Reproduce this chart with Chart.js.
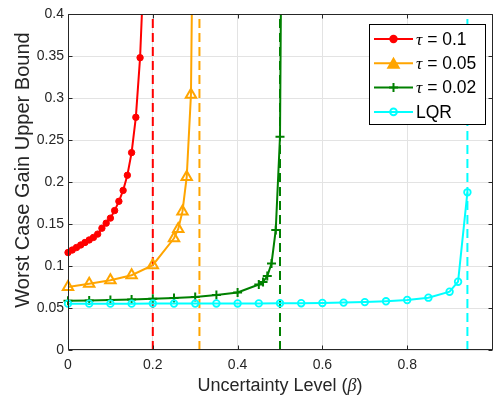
<!DOCTYPE html>
<html>
<head>
<meta charset="utf-8">
<script src="https://cdn.jsdelivr.net/npm/chart.js@4.4.1/dist/chart.umd.min.js"></script>
<style>
  html, body { margin: 0; padding: 0; background: #fff; overflow: hidden; }
  #wrap { width: 500px; height: 403px; }
</style>
</head>
<body>
<div id="wrap"><canvas id="chart" width="500" height="403"></canvas></div>
<script>
// series
const tau01X = [0, 0.01, 0.02, 0.03, 0.04, 0.05, 0.06, 0.07, 0.08, 0.09, 0.1, 0.11, 0.12, 0.13, 0.14, 0.15, 0.16, 0.17, 0.18];
const tau01Y = [0.116, 0.119, 0.122, 0.125, 0.128, 0.131, 0.134, 0.138, 0.145, 0.151, 0.157, 0.166, 0.177, 0.19, 0.208, 0.235, 0.277, 0.348, 0.47];

const tau005X = [0, 0.05, 0.1, 0.15, 0.2, 0.25, 0.26, 0.27, 0.28, 0.29, 0.3];
const tau005Y = [0.075, 0.079, 0.083, 0.089, 0.101, 0.133, 0.144, 0.165, 0.206, 0.304, 0.78];

const tau002X = [0, 0.05, 0.1, 0.15, 0.2, 0.25, 0.3, 0.35, 0.4, 0.45, 0.46, 0.47, 0.48, 0.49, 0.5, 0.51];
const tau002Y = [0.0587, 0.059, 0.0595, 0.06, 0.061, 0.062, 0.063, 0.0655, 0.0685, 0.078, 0.081, 0.088, 0.103, 0.143, 0.254, 0.98];

const lqrX = [0, 0.05, 0.1, 0.15, 0.2, 0.25, 0.3, 0.35, 0.4, 0.45, 0.5, 0.55, 0.6, 0.65, 0.7, 0.75, 0.8, 0.85, 0.9, 0.92, 0.942];
const lqrY = [0.0552, 0.0552, 0.0552, 0.0552, 0.0553, 0.0553, 0.0553, 0.0554, 0.0554, 0.0555, 0.0556, 0.0557, 0.056, 0.0564, 0.057, 0.058, 0.0595, 0.0623, 0.0694, 0.0813, 0.1877];

// dashed limits (one per series)
const limitX = [0.2, 0.31, 0.5, 0.942];

const legendLabels = ["τ = 0.1", "τ = 0.05", "τ = 0.02", "LQR"];
const xTicks = [0, 0.2, 0.4, 0.6, 0.8, 1];
const xTickLabels = ["0", "0.2", "0.4", "0.6", "0.8", ""];
const yTicks = [0, 0.05, 0.1, 0.15, 0.2, 0.25, 0.3, 0.35, 0.4];
const yTickLabels = ["0", "0.05", "0.1", "0.15", "0.2", "0.25", "0.3", "0.35", "0.4"];
const xTitle = ["Uncertainty Level (", "β", ")"];
const yTitle = "Worst Case Gain Upper Bound";

const colors = ["#ff0000", "#ffa500", "#008000", "#00ffff"];
const axisColor = "#262626";
const sans = "'Liberation Sans', Arial, sans-serif";
const serif = "'Liberation Serif', 'Times New Roman', serif";

const toPoints = (xs, ys) => xs.map((x, i) => ({ x, y: ys[i] }));

const marks = [
  { pointStyle: "circle", pointRadius: 3.2, pointBorderWidth: 1, fill: true },
  { pointStyle: "triangle", pointRadius: 6, pointBorderWidth: 2, fill: false },
  { pointStyle: "cross", pointRadius: 4.5, pointBorderWidth: 2, fill: false },
  { pointStyle: "circle", pointRadius: 3.3, pointBorderWidth: 1.8, fill: false },
];

const seriesX = [tau01X, tau005X, tau002X, lqrX];
const seriesY = [tau01Y, tau005Y, tau002Y, lqrY];

const curveSets = seriesX.map((xs, i) => ({
  data: toPoints(xs, seriesY[i]),
  borderColor: colors[i],
  borderWidth: 2,
  pointStyle: marks[i].pointStyle,
  pointRadius: marks[i].pointRadius,
  pointBorderWidth: marks[i].pointBorderWidth,
  pointBorderColor: colors[i],
  pointBackgroundColor: marks[i].fill ? colors[i] : "rgba(0,0,0,0)",
  tension: 0,
  order: 4 - i,
  clip: { left: 10, right: 10, top: 0, bottom: 10 },
}));

const limitSets = limitX.map((x, i) => ({
  data: [{ x, y: 0 }, { x, y: 0.4 }],
  borderColor: colors[i],
  borderWidth: 2,
  borderDash: [9, 5],
  pointRadius: 0,
  order: 10,
  clip: 0,
}));

// box, inward ticks, axis titles and legend
const frame = {
  id: "frame",
  afterDraw(chart) {
    const { ctx, chartArea: a, scales } = chart;
    const L = Math.round(a.left) + 0.5, R = Math.round(a.right) + 0.5;
    const T = Math.round(a.top) + 0.5, B = Math.round(a.bottom) - 0.5;
    ctx.save();
    ctx.strokeStyle = axisColor;
    ctx.lineWidth = 1;
    ctx.beginPath();
    ctx.rect(L, T, R - L, B - T);
    xTicks.forEach((v) => {
      const p = Math.round(scales.x.getPixelForValue(v)) + 0.5;
      ctx.moveTo(p, B); ctx.lineTo(p, B - 4);
      ctx.moveTo(p, T); ctx.lineTo(p, T + 4);
    });
    yTicks.forEach((v) => {
      const p = Math.round(scales.y.getPixelForValue(v)) + 0.5;
      ctx.moveTo(L, p); ctx.lineTo(L + 4, p);
      ctx.moveTo(R, p); ctx.lineTo(R - 4, p);
    });
    ctx.stroke();

    // x title, beta in italic
    ctx.fillStyle = axisColor;
    ctx.textBaseline = "middle";
    const fonts = ["18px " + sans, "italic 18px " + serif, "18px " + sans];
    const widths = xTitle.map((s, i) => { ctx.font = fonts[i]; return ctx.measureText(s).width; });
    let tx = (a.left + a.right) / 2 - widths.reduce((s, w) => s + w, 0) / 2;
    xTitle.forEach((s, i) => {
      ctx.font = fonts[i];
      ctx.textAlign = "left";
      ctx.fillText(s, tx, 386);
      tx += widths[i];
    });

    // y title
    ctx.save();
    ctx.translate(23, 170);
    ctx.rotate(-Math.PI / 2);
    ctx.font = "20px " + sans;
    ctx.textAlign = "center";
    ctx.fillText(yTitle, 0, 0);
    ctx.restore();

    // legend
    const lx = 369.5, ly = 24.5, lw = 116, lh = 100;
    ctx.fillStyle = "#fff";
    ctx.fillRect(lx, ly, lw, lh);
    ctx.strokeStyle = "#000";
    ctx.lineWidth = 1;
    ctx.strokeRect(lx, ly, lw, lh);
    legendLabels.forEach((label, i) => {
      const y = 39 + i * 24.3;
      ctx.strokeStyle = colors[i];
      ctx.lineWidth = 2;
      ctx.setLineDash([]);
      ctx.beginPath();
      ctx.moveTo(374, y); ctx.lineTo(413, y);
      ctx.stroke();
      ctx.fillStyle = i < 2 ? colors[i] : "rgba(0,0,0,0)";
      Chart.helpers.drawPoint(ctx, {
        pointStyle: marks[i].pointStyle,
        radius: marks[i].pointRadius,
        borderWidth: marks[i].pointBorderWidth,
        rotation: 0,
      }, 393.5, i === 1 ? y + 1.5 : y);
      ctx.fillStyle = "#000";
      ctx.textAlign = "left";
      ctx.textBaseline = "middle";
      let x = 416;
      if (label.startsWith("τ")) {
        ctx.font = "italic 17.5px " + serif;
        ctx.fillText("τ", x, y + 1);
        x += ctx.measureText("τ").width;
        label = label.slice(1);
      }
      ctx.font = "17.5px " + sans;
      ctx.fillText(label, x, y + 1);
    });
    ctx.restore();
  },
};

new Chart(document.getElementById("chart"), {
  type: "line",
  data: { datasets: [...curveSets, ...limitSets] },
  options: {
    responsive: false,
    animation: false,
    events: [],
    layout: { padding: { top: 14, right: 4.5, left: 0, bottom: 0 } },
    plugins: { legend: { display: false }, tooltip: { enabled: false } },
    scales: {
      x: {
        type: "linear",
        min: 0,
        max: 1,
        afterBuildTicks: (s) => { s.ticks = xTicks.map((v) => ({ value: v })); },
        afterFit: (s) => { s.height = 53; },
        ticks: {
          color: axisColor,
          padding: 7,
          maxRotation: 0,
          font: { family: sans, size: 14 },
          callback: (v, i) => xTickLabels[i],
        },
        grid: { color: "#e3e3e3", lineWidth: 1, drawTicks: false },
        border: { display: false },
      },
      y: {
        type: "linear",
        min: 0,
        max: 0.4,
        afterBuildTicks: (s) => { s.ticks = yTicks.map((v) => ({ value: v })); },
        afterFit: (s) => { s.width = 68; },
        ticks: {
          color: axisColor,
          padding: 4,
          font: { family: sans, size: 14 },
          callback: (v, i) => yTickLabels[i],
        },
        grid: { color: "#e3e3e3", lineWidth: 1, drawTicks: false },
        border: { display: false },
      },
    },
  },
  plugins: [frame],
});
</script>
</body>
</html>
